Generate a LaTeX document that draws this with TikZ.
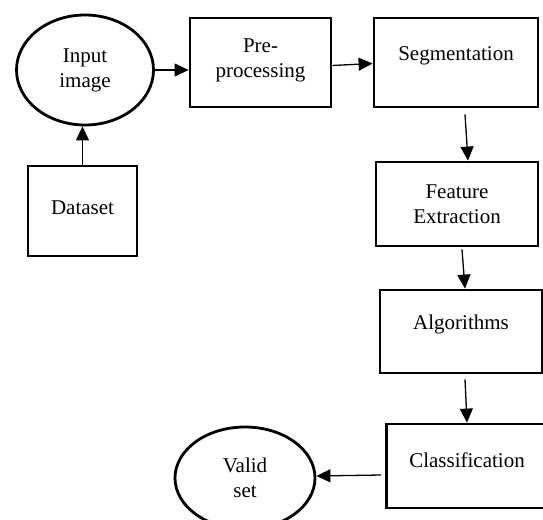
\documentclass[tikz,border=0pt]{standalone}
\usepackage{fontspec}
\setmainfont{Liberation Serif}
\usetikzlibrary{shapes.geometric,arrows.meta}
\begin{document}
\begin{tikzpicture}[x=1pt,y=-1pt,
  every node/.style={font=\fontsize{21}{25}\selectfont, align=center, inner sep=0pt},
  box/.style={draw, rectangle, line width=2.8pt},
  oval/.style={draw, ellipse, line width=2.8pt},
  arr/.style={line width=1.3pt, -{Triangle[length=14pt,width=13pt]}}]
\useasboundingbox (0,0) rectangle (543,519);
\node[oval, minimum width=137pt, minimum height=110pt] (input) at (85,70) {Input\\image};
\node[box, minimum width=141pt, minimum height=89pt, text depth=8pt] (pre) at (260.5,62.5) {Pre-\\processing};
\node[box, minimum width=164pt, minimum height=89pt, text depth=18pt] (seg) at (456,62.5) {Segmentation};
\node[box, minimum width=109pt, minimum height=90pt, text depth=6pt] (data) at (82.5,211) {Dataset};
\node[box, minimum width=162pt, minimum height=84pt] (feat) at (457,204) {Feature\\Extraction};
\node[box, minimum width=162pt, minimum height=83pt, text depth=18pt] (alg) at (461,331.5) {Algorithms};
\node[box, minimum width=161pt, minimum height=84pt, text depth=12pt] (cls) at (467,466) {Classification};
\node[oval, minimum width=140pt, minimum height=102pt] (valid) at (245,478) {Valid\\set};
\draw[arr] (input.east) -- (pre.west |- input.east);
\draw[arr] ([yshift=-3pt]pre.east) -- ([yshift=-1pt]seg.west);
\draw[arr] (data.north) -- (data.north |- input.south);
\draw[arr] ([xshift=9pt,yshift=-6pt]seg.south) -- ([xshift=11pt]feat.north);
\draw[arr] ([xshift=5pt,yshift=-2pt]feat.south) -- ([xshift=4pt]alg.north);
\draw[arr] ([xshift=4pt,yshift=-5pt]alg.south) -- (cls.north);
\draw[arr] ([xshift=-4pt,yshift=-9pt]cls.west) -- ([yshift=2pt]valid.east);
\end{tikzpicture}
\end{document}
